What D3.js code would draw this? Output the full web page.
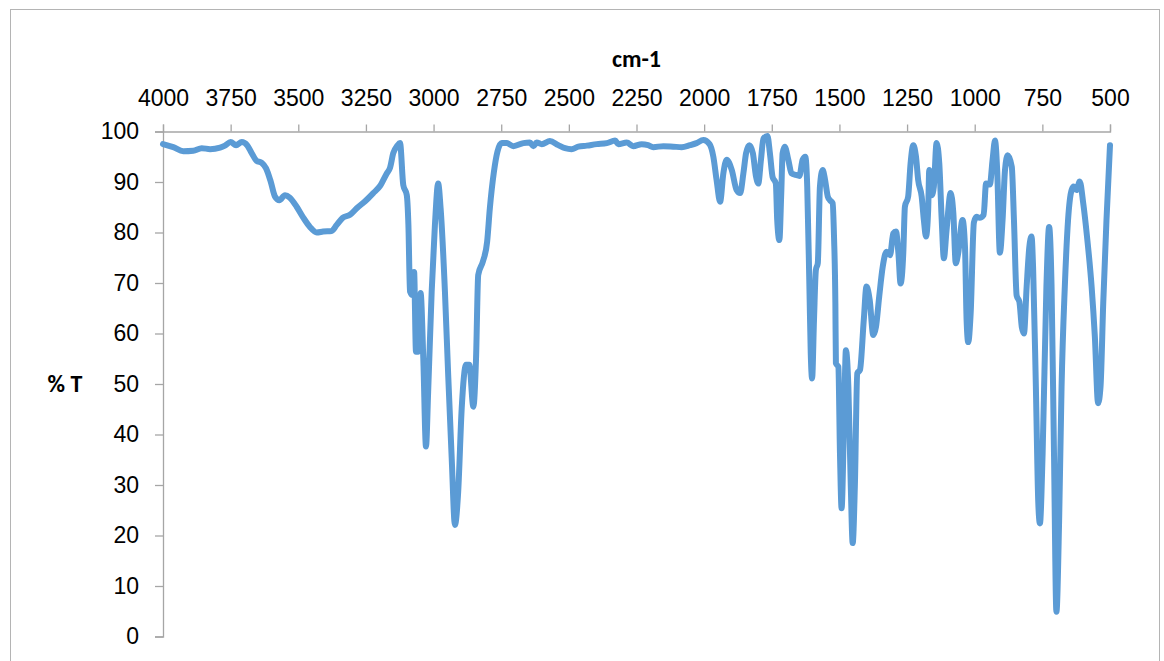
<!DOCTYPE html>
<html>
<head>
<meta charset="utf-8">
<script src="https://cdn.jsdelivr.net/npm/d3@7"></script>
<style>
  html, body { margin: 0; padding: 0; background: #fff; }
  svg { display: block; font-family: Carlito, Calibri, Lato, "Open Sans", sans-serif; }
</style>
</head>
<body>
<svg id="chart" width="1164" height="661"></svg>
<script>
// IR transmittance spectrum: wavenumber (cm-1) against %T
const wavenumbers = [
  4000, 3962, 3925, 3888, 3857, 3826, 3789, 3771, 3750, 3730, 3709, 3688, 3672, 3654, 3635, 3619,
  3602, 3586, 3570, 3549, 3531, 3506, 3481, 3457, 3432, 3408, 3377, 3358, 3336, 3309, 3284, 3253,
  3223, 3198, 3173, 3161, 3149, 3134, 3124, 3112, 3099, 3093, 3087, 3078, 3072, 3065, 3056, 3048,
  3038, 3028, 3020, 3007, 2995, 2983, 2974, 2958, 2946, 2933, 2921, 2909, 2896, 2880, 2868, 2853,
  2843, 2835, 2818, 2802, 2792, 2777, 2764, 2748, 2730, 2705, 2668, 2644, 2631, 2619, 2600, 2570,
  2539, 2514, 2490, 2465, 2434, 2397, 2360, 2329, 2317, 2286, 2262, 2231, 2207, 2188, 2151, 2114,
  2083, 2052, 2028, 2003, 1980, 1966, 1954, 1941, 1929, 1917, 1898, 1880, 1867, 1855, 1845, 1833,
  1820, 1808, 1800, 1790, 1781, 1766, 1757, 1747, 1735, 1730, 1722, 1715, 1710, 1702, 1689, 1677,
  1661, 1648, 1636, 1626, 1619, 1611, 1606, 1601, 1594, 1587, 1580, 1572, 1562, 1553, 1543, 1535,
  1525, 1520, 1515, 1513, 1504, 1498, 1492, 1483, 1476, 1467, 1458, 1451, 1443, 1434, 1424, 1410,
  1400, 1388, 1375, 1365, 1353, 1340, 1326, 1313, 1301, 1291, 1282, 1274, 1264, 1258, 1246, 1237,
  1227, 1217, 1209, 1196, 1188, 1180, 1172, 1168, 1159, 1151, 1141, 1131, 1122, 1114, 1104, 1089,
  1079, 1070, 1061, 1045, 1036, 1030, 1024, 1015, 1003, 993, 982, 967, 958, 944, 934, 925,
  917, 907, 897, 888, 878, 863, 855, 845, 835, 826, 818, 808, 798, 790, 784, 774,
  765, 759, 749, 735, 725, 716, 707, 698, 688, 679, 667, 655, 642, 634, 624, 612,
  599, 585, 568, 556, 544, 535, 525, 513, 500
];
const transmittance = [
  97.5, 96.9, 96.1, 96.2, 96.7, 96.5, 96.8, 97.2, 97.9, 97.3, 97.9, 97.2, 95.7, 94.2, 93.8, 92.7,
  90.1, 87.1, 86.4, 87.4, 86.9, 85.1, 82.9, 81.1, 80.0, 80.2, 80.3, 81.5, 82.9, 83.5, 84.8, 86.2,
  87.8, 89.2, 91.7, 92.8, 95.7, 97.2, 97.7, 89.4, 87.4, 81.5, 68.3, 67.6, 72.2, 56.4, 56.4, 68.0,
  55.1, 37.6, 48.5, 68.3, 81.5, 89.7, 84.8, 68.3, 51.8, 35.3, 22.1, 28.7, 45.2, 53.8, 53.8, 45.5,
  55.1, 71.6, 74.2, 78.2, 84.8, 92.0, 96.0, 97.7, 97.7, 97.1, 97.7, 97.8, 97.1, 97.8, 97.5, 98.1,
  97.3, 96.7, 96.5, 97.0, 97.2, 97.5, 97.7, 98.2, 97.5, 97.8, 97.1, 97.5, 97.3, 96.9, 97.1, 97.0,
  96.9, 97.3, 97.7, 98.3, 97.5, 95.0, 90.4, 86.1, 91.7, 94.4, 92.4, 88.4, 87.8, 91.7, 95.7, 97.3,
  95.7, 91.0, 89.7, 94.4, 98.6, 99.1, 95.7, 91.0, 89.7, 82.5, 78.5, 87.8, 95.7, 97.0, 94.4, 91.7,
  91.4, 91.2, 94.4, 95.0, 89.1, 69.3, 56.1, 51.1, 62.7, 72.6, 73.9, 89.1, 92.4, 90.4, 87.1, 86.4,
  85.8, 79.2, 66.0, 54.1, 53.4, 36.3, 25.4, 42.9, 56.7, 49.5, 29.7, 18.5, 29.7, 52.1, 52.8, 62.7,
  69.3, 66.6, 59.7, 61.3, 67.3, 73.2, 76.2, 75.5, 79.8, 80.2, 75.9, 69.9, 75.9, 85.1, 87.1, 93.7,
  97.3, 95.0, 90.4, 87.1, 82.5, 79.2, 84.5, 92.4, 87.4, 89.1, 97.7, 93.7, 82.5, 74.9, 80.5, 87.8,
  83.8, 73.9, 75.9, 82.5, 77.2, 62.7, 58.3, 64.0, 82.0, 83.1, 82.9, 83.5, 89.7, 89.5, 94.4, 98.2,
  92.4, 76.0, 82.5, 92.4, 95.3, 93.0, 82.5, 67.5, 66.3, 61.3, 60.0, 69.3, 77.2, 79.2, 72.6, 49.5,
  26.4, 22.4, 36.3, 69.3, 81.1, 69.3, 36.3, 4.9, 23.1, 49.5, 69.3, 82.5, 88.4, 89.1, 88.4, 90.1,
  85.8, 79.2, 69.3, 59.4, 46.2, 49.5, 66.0, 82.5, 97.3
];
const xTicks = [4000, 3750, 3500, 3250, 3000, 2750, 2500, 2250, 2000, 1750, 1500, 1250, 1000, 750, 500];
const yTicks = [0, 10, 20, 30, 40, 50, 60, 70, 80, 90, 100];
const xTitle = "cm-1";
const yTitle = "% T";

const svg = d3.select("#chart");
const axisGrey = "#a6a6a6";
const fontSize = 23;

// chart area frame
svg.append("rect")
  .attr("x", 10.5).attr("y", 9.5)
  .attr("width", 1149).attr("height", 670)
  .attr("fill", "#fff").attr("stroke", "#b4b4b4").attr("stroke-width", 1);

const x = d3.scaleLinear().domain([4000, 500]).range([163, 1110]);
const y = d3.scaleLinear().domain([0, 100]).range([636.5, 131.5]);

// top wavenumber axis
const gx = svg.append("g").attr("transform", `translate(0,${y(100)})`)
  .call(d3.axisTop(x).tickValues(xTicks).tickSize(7).tickPadding(19).tickFormat(d3.format("d")));
gx.select(".domain").attr("stroke", axisGrey).attr("stroke-width", 1.3);
gx.selectAll(".tick line").attr("stroke", axisGrey).attr("stroke-width", 1.3);
gx.selectAll("text").attr("font-size", fontSize).attr("fill", "#000").attr("font-family", null);

// left %T axis
const gy = svg.append("g").attr("transform", `translate(${x(4000)},0)`)
  .call(d3.axisLeft(y).tickValues(yTicks).tickSize(8).tickPadding(16).tickFormat(d3.format("d")));
gy.select(".domain").attr("stroke", axisGrey).attr("stroke-width", 1.3);
gy.selectAll(".tick line").attr("stroke", axisGrey).attr("stroke-width", 1.3);
gy.selectAll("text").attr("font-size", fontSize).attr("fill", "#000").attr("font-family", null);

// axis titles
svg.append("text")
  .attr("x", (x(4000) + x(500)) / 2).attr("y", 67)
  .attr("text-anchor", "middle").attr("font-size", 24).attr("font-weight", "bold")
  .text(xTitle);
svg.append("text")
  .attr("x", 65).attr("y", (y(0) + y(100)) / 2 + 8)
  .attr("text-anchor", "middle").attr("font-size", 24).attr("font-weight", "bold")
  .text(yTitle);

// spectrum trace
const points = wavenumbers.map((w, i) => [w, transmittance[i]]);
const line = d3.line()
  .x(d => x(d[0]))
  .y(d => y(d[1]))
  .curve(d3.curveMonotoneX);

svg.append("path")
  .datum(points)
  .attr("d", line)
  .attr("fill", "none")
  .attr("stroke", "#5b9bd5")
  .attr("stroke-width", 6)
  .attr("stroke-linejoin", "round")
  .attr("stroke-linecap", "round");
</script>
</body>
</html>
